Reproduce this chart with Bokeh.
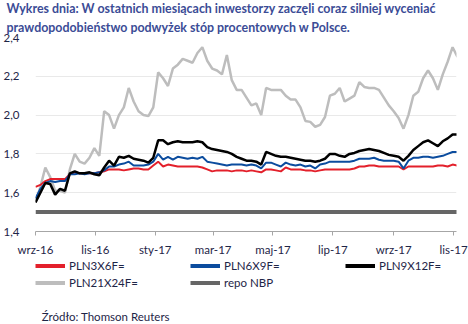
import pandas as pd
from bokeh.plotting import figure
from bokeh.layouts import column
from bokeh.models import (Range1d, FixedTicker, CustomJSTickFormatter, Legend,
                          LegendItem, Title, Label)
from bokeh.embed import file_html
from bokeh.resources import INLINE

# ---------------- data (5-day steps from 2016-09-01) ----
start_date = "2016-09-01"
n_points = 87
step = "5D"

pln3x6 = [1.63, 1.64, 1.66, 1.67, 1.67, 1.67, 1.67, 1.695, 1.705, 1.70,
          1.70, 1.70, 1.70, 1.705, 1.71, 1.72, 1.72, 1.72, 1.715, 1.72,
          1.725, 1.725, 1.72, 1.72, 1.74, 1.76, 1.735, 1.745, 1.74, 1.735,
          1.735, 1.735, 1.735, 1.735, 1.73, 1.72, 1.71, 1.715, 1.715, 1.715,
          1.71, 1.715, 1.715, 1.71, 1.715, 1.71, 1.705, 1.72, 1.72, 1.715,
          1.71, 1.73, 1.72, 1.72, 1.72, 1.715, 1.715, 1.71, 1.715, 1.72,
          1.72, 1.72, 1.72, 1.72, 1.72, 1.725, 1.735, 1.735, 1.74, 1.74,
          1.735, 1.735, 1.735, 1.735, 1.735, 1.72, 1.735, 1.735, 1.735, 1.735,
          1.735, 1.735, 1.74, 1.74, 1.735, 1.745, 1.74]

pln6x9 = [1.57, 1.62, 1.65, 1.66, 1.655, 1.66, 1.66, 1.695, 1.695, 1.70,
          1.695, 1.70, 1.70, 1.705, 1.715, 1.735, 1.735, 1.745, 1.75, 1.76,
          1.74, 1.74, 1.74, 1.745, 1.76, 1.80, 1.77, 1.785, 1.77, 1.785,
          1.78, 1.775, 1.78, 1.775, 1.785, 1.76, 1.755, 1.75, 1.745, 1.74,
          1.745, 1.745, 1.745, 1.74, 1.745, 1.74, 1.725, 1.755, 1.755, 1.745,
          1.735, 1.755, 1.745, 1.74, 1.745, 1.735, 1.74, 1.725, 1.745, 1.75,
          1.76, 1.76, 1.76, 1.76, 1.76, 1.765, 1.775, 1.775, 1.775, 1.78,
          1.77, 1.765, 1.765, 1.765, 1.76, 1.725, 1.765, 1.78, 1.78, 1.785,
          1.785, 1.78, 1.785, 1.79, 1.80, 1.81, 1.81]

pln9x12 = [1.55, 1.60, 1.65, 1.645, 1.59, 1.62, 1.61, 1.70, 1.71, 1.70,
           1.70, 1.705, 1.695, 1.69, 1.73, 1.765, 1.74, 1.785, 1.78, 1.79,
           1.775, 1.77, 1.765, 1.755, 1.78, 1.87, 1.87, 1.85, 1.86, 1.865,
           1.86, 1.86, 1.86, 1.865, 1.86, 1.835, 1.825, 1.82, 1.815, 1.81,
           1.80, 1.785, 1.775, 1.765, 1.765, 1.76, 1.745, 1.81, 1.80, 1.79,
           1.785, 1.785, 1.78, 1.775, 1.77, 1.765, 1.765, 1.76, 1.765, 1.775,
           1.80, 1.80, 1.79, 1.785, 1.80, 1.805, 1.815, 1.82, 1.825, 1.82,
           1.815, 1.805, 1.795, 1.79, 1.785, 1.765, 1.79, 1.82, 1.84, 1.86,
           1.87, 1.855, 1.84, 1.865, 1.88, 1.90, 1.90]

pln21x24 = [1.55, 1.63, 1.73, 1.68, 1.61, 1.61, 1.60, 1.72, 1.80, 1.76,
            1.75, 1.78, 1.83, 1.79, 2.02, 2.00, 1.93, 2.00, 2.04, 2.14,
            2.07, 2.02, 2.00, 1.995, 2.04, 2.22, 2.19, 2.15, 2.24, 2.26,
            2.29, 2.28, 2.27, 2.32, 2.35, 2.28, 2.24, 2.23, 2.21, 2.31,
            2.18, 2.13, 2.13, 2.09, 2.05, 2.06, 2.00, 2.14, 2.13, 2.13,
            2.13, 2.10, 2.08, 2.08, 2.04, 1.97, 1.965, 1.94, 1.95, 1.99,
            2.10, 2.11, 2.14, 2.07, 2.085, 2.10, 2.17, 2.145, 2.14, 2.14,
            2.13, 2.09, 2.05, 2.02, 1.985, 1.93, 2.00, 2.10, 2.12, 2.19,
            2.23, 2.19, 2.13, 2.21, 2.275, 2.35, 2.30]

repo_rate = 1.50

tick_dates = ["2016-09-01", "2016-11-01", "2017-01-01", "2017-03-01",
              "2017-05-01", "2017-07-01", "2017-09-01", "2017-11-01"]
tick_labels = ["wrz-16", "lis-16", "sty-17", "mar-17",
               "maj-17", "lip-17", "wrz-17", "lis-17"]
y_ticks = [1.4, 1.6, 1.8, 2.0, 2.2, 2.4]

series_names = ["PLN3X6F=", "PLN6X9F=", "PLN9X12F=", "PLN21X24F=", "repo NBP"]
series_colors = ["#e3202b", "#0b4c9e", "#000000", "#bdbdbd", "#666666"]

title_line1 = "Wykres dnia: W ostatnich miesiącach inwestorzy zaczęli coraz silniej wyceniać"
title_line2 = "prawdopodobieństwo podwyżek stóp procentowych w Polsce."
source_text = "Źródło: Thomson Reuters"

# ---------------- main chart ----------------
dates = pd.date_range(start_date, periods=n_points, freq=step)
repo = [repo_rate] * n_points

FONT = "Lato"
TXT = "#1e2547"
TITLE_COL = "#3b4c96"

p = figure(width=468, height=258, x_axis_type="datetime",
           output_backend="svg", toolbar_location=None,
           x_range=Range1d(pd.Timestamp("2016-09-01"), pd.Timestamp("2017-11-04")),
           y_range=Range1d(1.4, 2.4),
           min_border_left=35, min_border_right=12,
           min_border_top=0, min_border_bottom=0)
p.outline_line_color = None
p.background_fill_color = "white"
p.border_fill_color = "white"

p.title.text = title_line1
p.title.align = "left"
p.title.offset = -29
p.title.text_font = FONT
p.title.text_font_size = "12.4px"
p.title.text_font_style = "bold"
p.title.text_color = TITLE_COL
p.title.standoff = -3
t2 = Title(text=title_line2, align="left", offset=-29, text_font=FONT,
           text_font_size="12.4px", text_font_style="bold",
           text_color=TITLE_COL, standoff=6)
p.add_layout(t2, "above")

p.xgrid.grid_line_color = None
p.ygrid.grid_line_color = "#e9e9e9"
p.ygrid.grid_line_width = 1

p.yaxis.ticker = FixedTicker(ticks=y_ticks)
p.yaxis.formatter = CustomJSTickFormatter(code="return tick.toFixed(1).replace('.', ',');")
p.yaxis.axis_line_color = None
p.yaxis.major_tick_line_color = None
p.yaxis.minor_tick_line_color = None
p.yaxis.major_label_standoff = 10
p.yaxis.major_label_text_font = FONT
p.yaxis.major_label_text_font_size = "11.5px"
p.yaxis.major_label_text_color = TXT

tick_ms = [pd.Timestamp(d).value / 1e6 for d in tick_dates]
p.xaxis.ticker = FixedTicker(ticks=tick_ms)
p.xaxis.formatter = CustomJSTickFormatter(
    args=dict(tvals=tick_ms, tlabs=tick_labels),
    code="""
const i = tvals.findIndex(t => Math.abs(t - tick) < 3600000);
return i >= 0 ? tlabs[i] : '';
""")
p.xaxis.axis_line_color = "#a6a6a6"
p.xaxis.major_tick_line_color = "#a6a6a6"
p.xaxis.minor_tick_line_color = None
p.xaxis.major_tick_in = 0
p.xaxis.major_tick_out = 4
p.xaxis.major_label_standoff = 7
p.xaxis.major_label_text_font = FONT
p.xaxis.major_label_text_font_size = "11.5px"
p.xaxis.major_label_text_color = TXT

p.line(dates, repo, color=series_colors[4], line_width=4)
p.line(dates, pln21x24, color=series_colors[3], line_width=2.5)
p.line(dates, pln3x6, color=series_colors[0], line_width=2)
p.line(dates, pln6x9, color=series_colors[1], line_width=2)
p.line(dates, pln9x12, color=series_colors[2], line_width=2.5)

# ---------------- legend + source strip ----------------
leg = figure(width=468, height=66, x_range=Range1d(0, 468), y_range=Range1d(0, 66),
             output_backend="svg", toolbar_location=None,
             x_axis_location=None, y_axis_location=None,
             min_border=0)
leg.outline_line_color = None
leg.grid.visible = False
leg.title.visible = False

items = []
for name, col in zip(series_names, series_colors):
    r = leg.line([0], [0], color=col, line_width=4)
    items.append(LegendItem(label=name, renderers=[r]))

legend = Legend(items=items, orientation="horizontal", ncols=3,
                glyph_width=30, glyph_height=15, label_width=119,
                label_standoff=4, spacing=2, padding=0, margin=0,
                location=(0, 34), border_line_color=None,
                background_fill_alpha=0,
                label_text_font=FONT, label_text_font_size="11.5px",
                label_text_color=TXT)
leg.add_layout(legend)

leg.add_layout(Label(x=7, y=8, text=source_text, text_baseline="middle",
                     text_align="left", text_font=FONT, text_font_size="11.5px",
                     text_color=TXT))

layout = column(p, leg, spacing=0)
open("out.html", "w").write(file_html(layout, INLINE))
